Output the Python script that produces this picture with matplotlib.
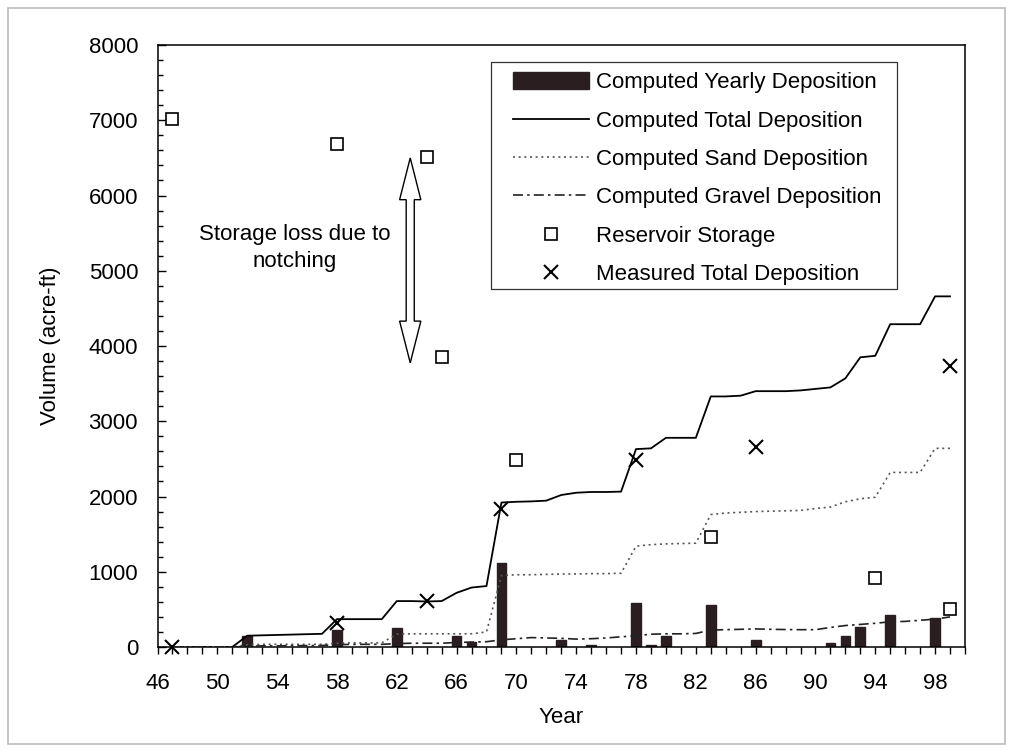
import matplotlib
matplotlib.use("Agg")
import matplotlib.pyplot as plt
import numpy as np
from matplotlib.patches import Rectangle, Polygon
from matplotlib.lines import Line2D
from matplotlib.patches import Patch

plt.rcParams['font.family'] = ['Liberation Sans', 'DejaVu Sans']
plt.rcParams['font.size'] = 16

# ---- data ----
bar_years = [52, 58, 62, 66, 67, 69, 73, 75, 78, 79, 80, 83, 86, 91, 92, 93, 95, 98]
bar_vals = [150, 220, 250, 140, 70, 1120, 90, 25, 580, 20, 150, 560, 90, 50, 150, 270, 430, 380]

line_years = list(range(47, 100))
total_dep = [0, 0, 0, 0, 0, 150, 155, 160, 165, 170, 175, 370, 370, 370, 370,
             610, 610, 605, 610, 720, 790, 810, 1920, 1930, 1935, 1945, 2020, 2050,
             2060, 2060, 2065, 2630, 2640, 2780, 2780, 2780, 3330, 3330, 3340, 3400,
             3400, 3400, 3410, 3430, 3450, 3570, 3850, 3870, 4290, 4290, 4290, 4660, 4660]
sand_dep = [0, 0, 0, 0, 0, 30, 35, 35, 35, 35, 35, 50, 55, 55, 55,
            170, 175, 175, 175, 175, 175, 200, 950, 960, 960, 965, 970, 970,
            975, 975, 980, 1340, 1360, 1370, 1375, 1380, 1760, 1780, 1790, 1800,
            1805, 1810, 1815, 1840, 1860, 1930, 1970, 1990, 2320, 2320, 2320, 2640, 2640]
gravel_dep = [0, 0, 0, 0, 0, 10, 15, 15, 18, 18, 20, 30, 35, 35, 35,
              45, 50, 50, 50, 60, 65, 70, 95, 110, 125, 120, 115, 105,
              110, 120, 135, 150, 170, 175, 175, 180, 225, 230, 235, 240,
              235, 232, 230, 230, 260, 285, 300, 315, 335, 340, 355, 370, 400]

storage_years = [47, 58, 64, 65, 70, 83, 94, 99]
storage_vals = [7020, 6680, 6510, 3860, 2480, 1460, 920, 500]

measured_years = [47, 58, 64, 69, 78, 86, 99]
measured_vals = [0, 320, 610, 1830, 2490, 2660, 3730]

x_ticks = list(range(46, 100, 4))
y_ticks = list(range(0, 8001, 1000))

# ---- figure ----
fig = plt.figure(figsize=(10.13, 7.51), dpi=100)
ax = fig.add_axes([0.1555, 0.1385, 0.7971, 0.8015])

bar_color = '#2a1e20'
ax.bar(bar_years, bar_vals, width=0.65, color=bar_color, edgecolor=bar_color, zorder=2)
ax.plot(line_years, total_dep, color='black', lw=1.3, zorder=3)
ax.plot(line_years, sand_dep, color='#555555', lw=1.2, ls=(0, (1.2, 2.2)), zorder=3)
ax.plot(line_years, gravel_dep, color='#222222', lw=1.2, ls=(0, (6, 2.5, 1.5, 2.5)), zorder=3)
ax.plot(storage_years, storage_vals, ls='none', marker='s', ms=9, mfc='white',
        mec='black', mew=1.2, zorder=4)
ax.plot(measured_years, measured_vals, ls='none', marker='x', ms=10, color='black',
        mew=1.5, zorder=4, clip_on=False)

ax.set_xlim(46, 100)
ax.set_ylim(0, 8000)
ax.set_xticks(x_ticks)
ax.set_xticks(range(46, 101), minor=True)
ax.set_yticks(y_ticks)
ax.set_yticks(range(0, 8001, 200), minor=True)
ax.tick_params(axis='x', which='both', direction='out', length=5, width=1.0, pad=14)
ax.tick_params(axis='y', which='major', direction='in', length=6, width=1.0, pad=14)
ax.tick_params(axis='y', which='minor', direction='in', length=3.5, width=1.0)
for s in ax.spines.values():
    s.set_linewidth(1.1)

ax.set_xlabel('Year', labelpad=9)
ax.set_ylabel('Volume (acre-ft)', labelpad=20)

# annotation: open double arrow
cx = 62.9
hw_shaft, hw_head = 0.27, 0.71
top, bot, hl = 6500, 3776, 555
arrow_pts = [
    (cx, top), (cx + hw_head, top - hl), (cx + hw_shaft, top - hl),
    (cx + hw_shaft, bot + hl), (cx + hw_head, bot + hl), (cx, bot),
    (cx - hw_head, bot + hl), (cx - hw_shaft, bot + hl), (cx - hw_shaft, top - hl),
    (cx - hw_head, top - hl),
]
ax.add_patch(Polygon(arrow_pts, closed=True, facecolor='white', edgecolor='black',
                     lw=1.0, zorder=5))
ax.text(55.2, 5300, 'Storage loss due to\nnotching', ha='center', va='center',
        linespacing=1.4)

# legend with manual frame
ax.add_patch(Rectangle((0.413, 0.5947), 0.503, 0.3771, transform=ax.transAxes,
                       facecolor='white', edgecolor='#333333', lw=0.9, zorder=6))
handles = [
    Patch(facecolor=bar_color, edgecolor=bar_color),
    Line2D([], [], color='black', lw=1.3),
    Line2D([], [], color='#555555', lw=1.2, ls=(0, (1.2, 2.2))),
    Line2D([], [], color='#222222', lw=1.2, ls=(0, (6, 2.5, 1.5, 2.5))),
    Line2D([], [], ls='none', marker='s', ms=9, mfc='white', mec='black', mew=1.2),
    Line2D([], [], ls='none', marker='x', ms=10, color='black', mew=1.5),
]
labels = ['Computed Yearly Deposition', 'Computed Total Deposition',
          'Computed Sand Deposition', 'Computed Gravel Deposition',
          'Reservoir Storage', 'Measured Total Deposition']
leg = ax.legend(handles, labels, loc='upper left', bbox_to_anchor=(0.440, 0.955),
                frameon=False, borderpad=0, borderaxespad=0, handlelength=3.45,
                handletextpad=0.28, labelspacing=0.77, handleheight=0.8)
leg.set_zorder(7)

# outer border
fig.add_artist(Rectangle((0.008, 0.009), 0.984, 0.981, transform=fig.transFigure,
                         fill=False, edgecolor='#bbbbbb', lw=1.2))

fig.savefig('out.png', dpi=100, facecolor='white')
